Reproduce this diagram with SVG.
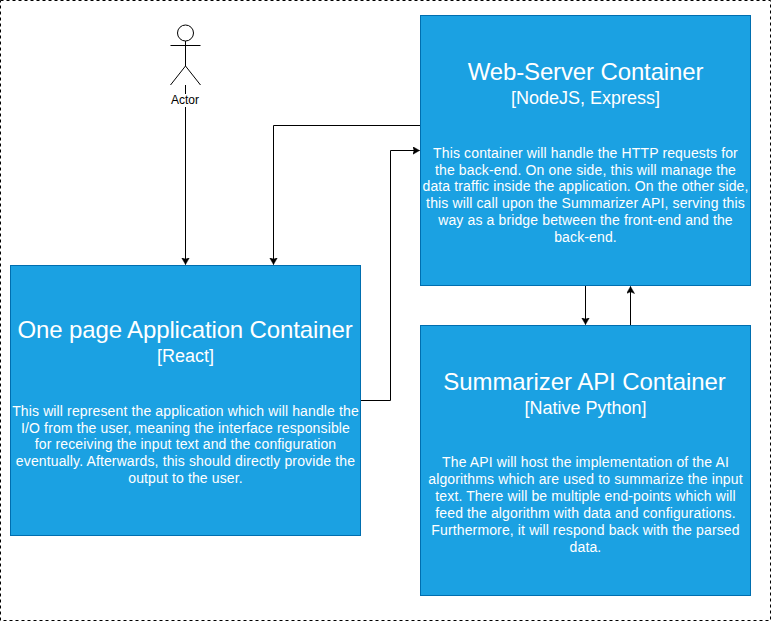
<svg xmlns="http://www.w3.org/2000/svg" width="771" height="621" viewBox="0 0 771 621">
<style>
text{font-family:"Liberation Sans",Arial,sans-serif;text-anchor:middle}
.box{fill:#1ba1e2;stroke:#006eaf;stroke-width:1}
.w{fill:#fff}
.t{font-size:24px;letter-spacing:-0.13px}.s{font-size:18px}.b{font-size:14px;letter-spacing:0.13px}
.c{fill:none;stroke:#000;stroke-width:1}
</style>
<defs><marker id="a" markerUnits="userSpaceOnUse" markerWidth="8" markerHeight="9" refX="7" refY="4" orient="auto"><path d="M0,0 L7,4 L0,8 L1.7,4 Z" fill="#000" stroke="#000" stroke-width="0.5"/></marker></defs>
<rect x="0.5" y="0.5" width="770" height="620" fill="#fff" stroke="#000" stroke-dasharray="3 3"/>
<g id="connectors">
<path class="c" marker-end="url(#a)" d="M185.500 85V264.500"/>
<path class="c" marker-end="url(#a)" d="M420 125.500H273.500V264.500"/>
<path class="c" marker-end="url(#a)" d="M360 400.500H390.500V150.500H419.500"/>
<path class="c" marker-end="url(#a)" d="M585.500 286V324.500"/>
<path class="c" marker-end="url(#a)" d="M630.500 325V286.500"/>
</g>
<g id="actor">
<circle cx="185.500" cy="33" r="8" fill="#fff" stroke="#000"/>
<path class="c" d="M185.500 41V66M170.500 45.500H200.500M170.500 85L185.500 66L200.500 85"/>
<rect x="170" y="94" width="31" height="13" fill="#fff"/>
<text x="185" y="104" font-size="12">Actor</text>
</g>
<g id="web-server">
<rect class="box" x="420.500" y="15.500" width="330" height="270"/>
<g class="w">
<text class="t" x="585.500" y="80">Web-Server Container</text>
<text class="s" x="585.500" y="104">[NodeJS, Express]</text>
<text class="b" x="585.500" y="158">This container will handle the HTTP requests for</text>
<text class="b" x="585.500" y="175">the back-end. On one side, this will manage the</text>
<text class="b" x="585.500" y="191">data traffic inside the application. On the other side,</text>
<text class="b" x="585.500" y="208">this will call upon the Summarizer API, serving this</text>
<text class="b" x="585.500" y="225">way as a bridge between the front-end and the</text>
<text class="b" x="585.500" y="242">back-end.</text>
</g>
</g>
<g id="spa">
<rect class="box" x="10.500" y="265.500" width="350" height="270"/>
<g class="w">
<text class="t" x="185" y="338">One page Application Container</text>
<text class="s" x="185.500" y="362">[React]</text>
<text class="b" x="185.500" y="416">This will represent the application which will handle the</text>
<text class="b" x="185.500" y="433">I/O from the user, meaning the interface responsible</text>
<text class="b" x="185.500" y="449">for receiving the input text and the configuration</text>
<text class="b" x="185.500" y="466">eventually. Afterwards, this should directly provide the</text>
<text class="b" x="185.500" y="483">output to the user.</text>
</g>
</g>
<g id="summarizer">
<rect class="box" x="420.500" y="325.500" width="330" height="270"/>
<g class="w">
<text class="t" x="584.500" y="390" style="letter-spacing:-0.07px">Summarizer API Container</text>
<text class="s" x="585.500" y="414">[Native Python]</text>
<text class="b" x="585.500" y="467">The API will host the implementation of the AI</text>
<text class="b" x="585.500" y="484">algorithms which are used to summarize the input</text>
<text class="b" x="585.500" y="501">text. There will be multiple end-points which will</text>
<text class="b" x="585.500" y="518">feed the algorithm with data and configurations.</text>
<text class="b" x="585.500" y="535">Furthermore, it will respond back with the parsed</text>
<text class="b" x="585.500" y="552">data.</text>
</g>
</g>
</svg>
